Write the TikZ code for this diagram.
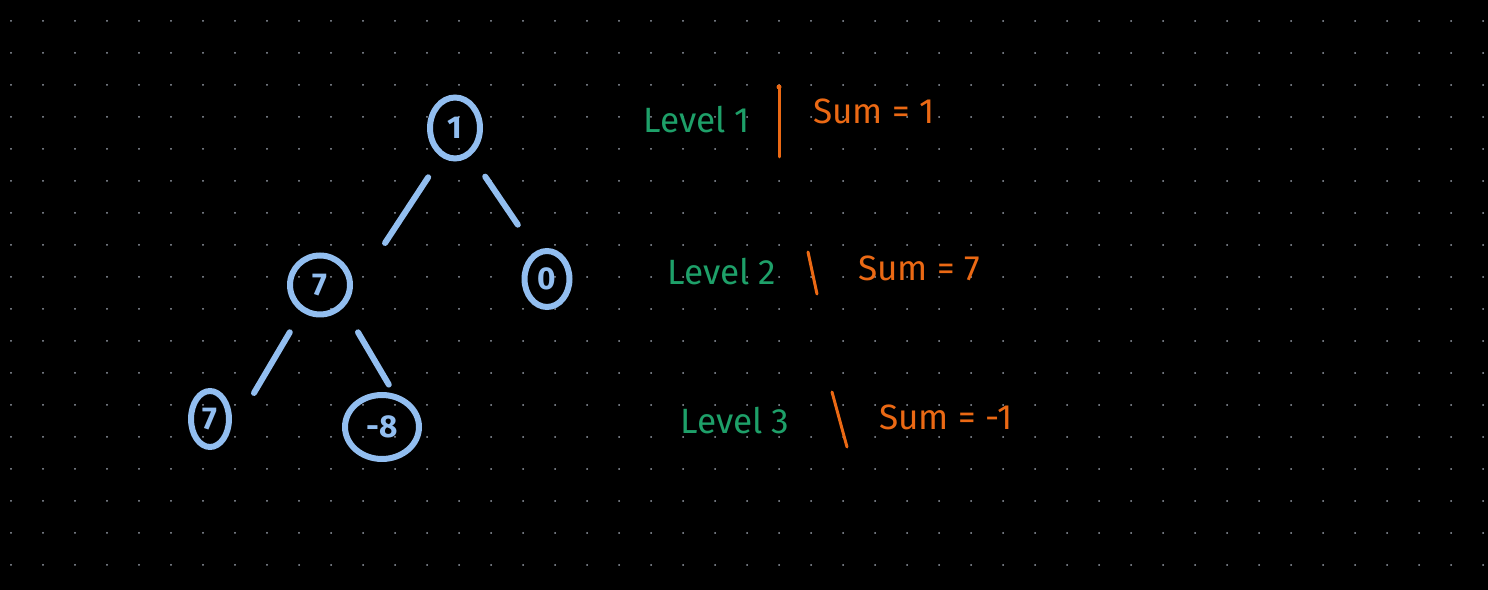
\documentclass[tikz,border=0pt]{standalone}
\usepackage{fontspec}
\setmainfont{Fira Sans}
\usetikzlibrary{shapes.geometric}
\definecolor{treeblue}{RGB}{146,190,240}
\definecolor{lvlgreen}{RGB}{30,160,105}
\definecolor{sumorange}{RGB}{235,105,20}
\definecolor{dotgray}{RGB}{150,158,168}

\begin{document}
\begin{tikzpicture}[x=0.02cm, y=-0.02cm,
        tnode/.style={ellipse, draw=treeblue, line width=0.12cm, inner sep=0pt, text=treeblue, font=\fontsize{18}{18}\selectfont\bfseries},
        tedge/.style={treeblue, line width=0.12cm, line cap=round},
        lvltxt/.style={text=lvlgreen, anchor=west, inner sep=0pt, font=\fontsize{20}{20}\selectfont},
        sumtxt/.style={text=sumorange, anchor=west, inner sep=0pt, font=\fontsize{20}{20}\selectfont},
        barline/.style={sumorange, line width=0.06cm, line cap=round}]
        % Background and dot grid
        \fill[black] (0,0) rectangle (1488,590);
        \foreach \i in {0,...,46}
            \foreach \j in {0,...,17}
                \fill[dotgray] ({11+32*\i},{21+32*\j}) circle (0.02cm);

        % Tree nodes
        \node[tnode, minimum width=1.0cm, minimum height=1.22cm] (root) at (455,128) {1};
        \node[tnode, minimum width=1.2cm, minimum height=1.18cm] (l) at (320,285) {7};
        \node[tnode, minimum width=0.9cm, minimum height=1.12cm] (r) at (547,279) {0};
        \node[tnode, minimum width=0.76cm, minimum height=1.12cm] (ll) at (210,419) {7};
        \node[tnode, minimum width=1.48cm, minimum height=1.28cm] (lr) at (382,427) {-8};

        % Tree edges
        \draw[tedge, shorten <=0.48cm, shorten >=1.21cm] (root.245) -- (l.345);
        \draw[tedge, shorten <=0.51cm, shorten >=0.64cm] (root.300) -- (r.112);
        \draw[tedge, shorten <=0.47cm, shorten >=1.07cm] (l.236) -- (ll.310);
        \draw[tedge, shorten <=0.57cm, shorten >=0.21cm] (l.316) -- (lr.70);

        % Level labels
        \node[lvltxt] (lv1) at (643,120) {Level 1};
        \node[lvltxt] (lv2) at (667,272) {Level 2};
        \node[lvltxt] (lv3) at (680,421) {Level 3};

        % Separators
        \draw[barline] (779,87) -- (779,157);
        \fill[sumorange] (779,87) circle (0.05cm);
        \draw[barline] (808,252) -- (817,294);
        \draw[barline] (832,392) -- (847,447);

        % Sums
        \node[sumtxt] (s1) at (813,111) {Sum = 1};
        \node[sumtxt] (s2) at (858,268) {Sum = 7};
        \node[sumtxt] (s3) at (879,417) {Sum = -1};
\end{tikzpicture}
\end{document}
